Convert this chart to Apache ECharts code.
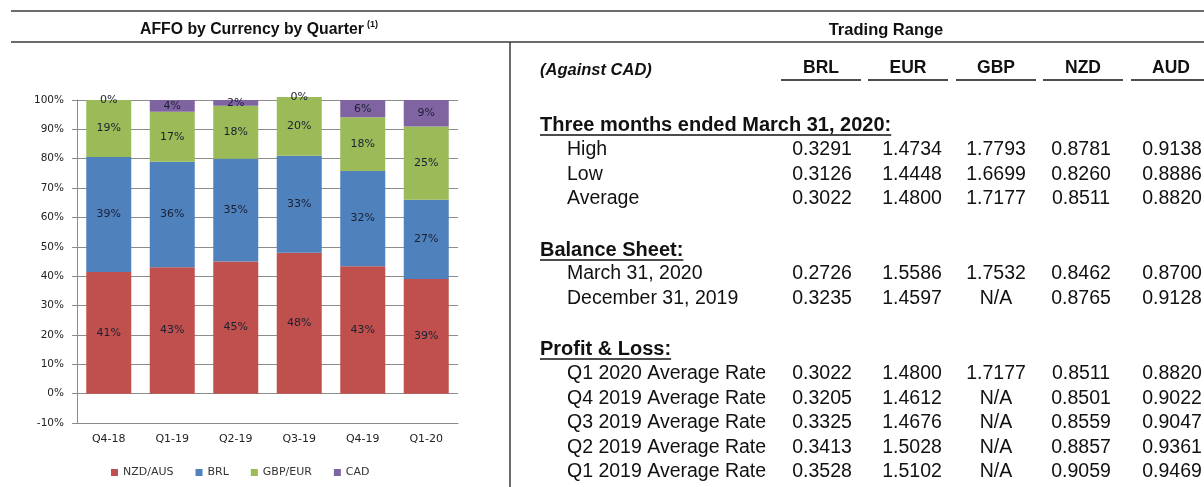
<!DOCTYPE html>
<html>
<head>
<meta charset="utf-8">
<title>AFFO by Currency by Quarter</title>
<script src="https://cdn.jsdelivr.net/npm/echarts@6/dist/echarts.min.js"></script>
<style>
  html, body { margin: 0; padding: 0; background: #fff; }
  #main { width: 1204px; height: 487px; }
</style>
</head>
<body>
<div id="main"></div>
<script>
// chart data (share of AFFO, %)
const quarters = ["Q4-18", "Q1-19", "Q2-19", "Q3-19", "Q4-19", "Q1-20"];
const nzdAus = [41.4, 43, 45, 48, 43.4, 39];
const brl = [39.2, 36, 35, 33, 32.4, 27];
const gbpEur = [19.4, 17, 18, 20, 18.3, 25];
const cad = [0, 4, 2, 0, 5.9, 9];

// table data (against CAD)
const fxCurrencies = ["BRL", "EUR", "GBP", "NZD", "AUD"];
const threeMonthLabels = ["High", "Low", "Average"];
const threeMonthRates = [
  [0.3291, 1.4734, 1.7793, 0.8781, 0.9138],
  [0.3126, 1.4448, 1.6699, 0.826, 0.8886],
  [0.3022, 1.48, 1.7177, 0.8511, 0.882],
];
const balanceLabels = ["March 31, 2020", "December 31, 2019"];
const balanceRates = [
  [0.2726, 1.5586, 1.7532, 0.8462, 0.87],
  [0.3235, 1.4597, null, 0.8765, 0.9128],
];
const plLabels = [
  "Q1 2020 Average Rate",
  "Q4 2019 Average Rate",
  "Q3 2019 Average Rate",
  "Q2 2019 Average Rate",
  "Q1 2019 Average Rate",
];
const plRates = [
  [0.3022, 1.48, 1.7177, 0.8511, 0.882],
  [0.3205, 1.4612, null, 0.8501, 0.9022],
  [0.3325, 1.4676, null, 0.8559, 0.9047],
  [0.3413, 1.5028, null, 0.8857, 0.9361],
  [0.3528, 1.5102, null, 0.9059, 0.9469],
];

const chart = echarts.init(document.getElementById("main"));

const tableFont = '"Liberation Sans", Arial, sans-serif';
const chartFont = '"DejaVu Sans", Verdana, sans-serif';
const headX = [821, 908, 996, 1083, 1171];
const numX = [822, 912, 996, 1081, 1172];
const measure = document.createElement("canvas").getContext("2d");

const graphics = [];

// rules
const rule = (x1, y1, x2, y2, w) => {
  graphics.push({
    type: "line",
    shape: { x1, y1, x2, y2 },
    style: { stroke: "#3a3a3a", lineWidth: w },
  });
};
rule(11, 11, 1204, 11, 1.5);
rule(11, 42, 1204, 42, 1.5);
rule(510, 42, 510, 487, 1.5);

const text = (str, x, y, font, align) => {
  graphics.push({
    type: "text",
    style: {
      text: str,
      x,
      y,
      font,
      fill: "#111",
      align: align || "left",
      verticalAlign: "middle",
    },
  });
};

const underlined = (str, x, y, font) => {
  text(str, x, y, font);
  measure.font = font;
  const w = measure.measureText(str).width;
  graphics.push({
    type: "line",
    shape: { x1: x, y1: y + 10, x2: x + w, y2: y + 10 },
    style: { stroke: "#111", lineWidth: 1.5 },
  });
};

// titles
text("AFFO by Currency by Quarter", 140, 30, "bold 15.8px " + tableFont);
text("(1)", 367, 25, "bold 9px " + tableFont);
text("Trading Range", 886, 30, "bold 16.5px " + tableFont, "center");

// table header
text("(Against CAD)", 540, 70, "italic bold 16.5px " + tableFont);
fxCurrencies.forEach((c, i) => {
  text(c, headX[i], 68, "bold 17.5px " + tableFont, "center");
  graphics.push({
    type: "line",
    shape: { x1: headX[i] - 40, y1: 80, x2: headX[i] + 40, y2: 80 },
    style: { stroke: "#111", lineWidth: 1.5 },
  });
});

const rowFont = "19.5px " + tableFont;
const sectionFont = "bold 20px " + tableFont;
const rows = (labels, rates, y0) => {
  labels.forEach((lab, r) => {
    const y = y0 + r * 24.5;
    text(lab, 567, y, rowFont);
    rates[r].forEach((v, i) => {
      text(v === null ? "N/A" : v.toFixed(4), numX[i], y, rowFont, "center");
    });
  });
};

underlined("Three months ended March 31, 2020:", 540, 125, sectionFont);
rows(threeMonthLabels, threeMonthRates, 150);
underlined("Balance Sheet:", 540, 250, sectionFont);
rows(balanceLabels, balanceRates, 274);
underlined("Profit & Loss:", 540, 349, sectionFont);
rows(plLabels, plRates, 374);

const barLabel = {
  show: true,
  position: "inside",
  color: "#1b2033",
  fontSize: 11,
  fontFamily: chartFont,
  formatter: (p) => Math.round(p.value) + "%",
};

const makeSeries = (name, data, color) => ({
  name,
  type: "bar",
  stack: "affo",
  barWidth: 45,
  clip: false,
  data,
  itemStyle: { color },
  label: barLabel,
});

chart.setOption({
  animation: false,
  textStyle: { fontFamily: chartFont },
  grid: { left: 77, right: 746, top: 100, bottom: 64 },
  legend: {
    left: 106,
    top: 462,
    icon: "rect",
    itemWidth: 7,
    itemHeight: 7,
    itemGap: 22,
    textStyle: { fontSize: 11, color: "#333", fontFamily: chartFont },
    data: ["NZD/AUS", "BRL", "GBP/EUR", "CAD"],
  },
  xAxis: {
    type: "category",
    data: quarters,
    axisLine: { onZero: false, lineStyle: { color: "#8a8a8a" } },
    axisTick: { show: false },
    axisLabel: { margin: 11, fontSize: 11, color: "#222", fontFamily: chartFont },
  },
  yAxis: {
    type: "value",
    min: -10,
    max: 100,
    interval: 10,
    axisLine: { show: true, lineStyle: { color: "#8a8a8a" } },
    axisTick: { show: true, length: 5, lineStyle: { color: "#8a8a8a" } },
    axisLabel: { formatter: "{value}%", margin: 13, fontSize: 10.5, color: "#222", fontFamily: chartFont },
    splitLine: { lineStyle: { color: "#8c8c8c" } },
  },
  series: [
    makeSeries("NZD/AUS", nzdAus, "#c0504d"),
    makeSeries("BRL", brl, "#4f81bd"),
    makeSeries("GBP/EUR", gbpEur, "#9bbb59"),
    makeSeries("CAD", cad, "#8064a2"),
  ],
  graphic: graphics,
});
</script>
</body>
</html>
